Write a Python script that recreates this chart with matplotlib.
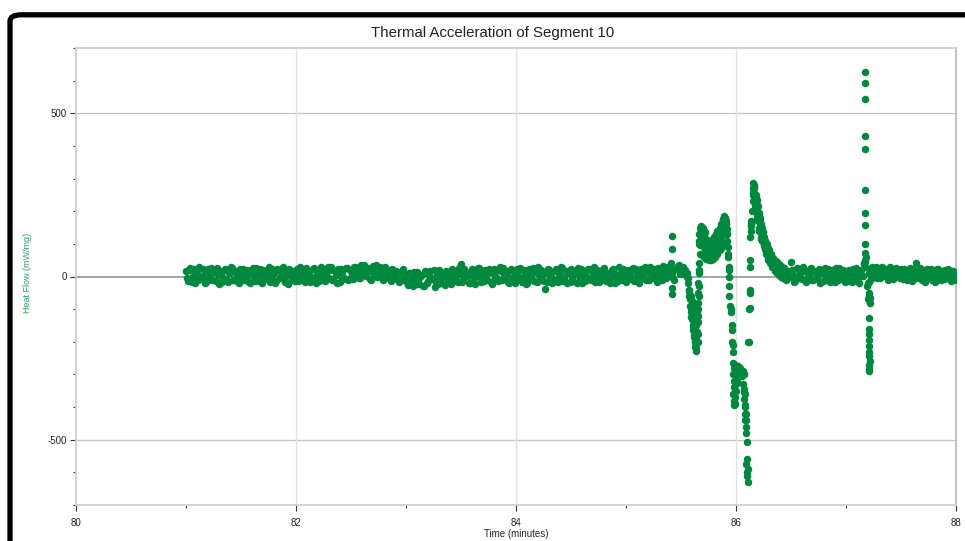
import numpy as np
import matplotlib
matplotlib.use("Agg")
import matplotlib.pyplot as plt
from matplotlib.ticker import MultipleLocator
from matplotlib.patches import FancyBboxPatch

plt.rcParams['font.family'] = ['Liberation Sans', 'DejaVu Sans']
plt.rcParams['axes.unicode_minus'] = False

# Baseline samples every 0.02 min from 81.00 (one row = half a minute)
t_start = 81.0
t_step = 0.02
hf_base = [
    18, -14, 25, 2, -20, 12, 28, -8, 5, -18, 22, 0, -12, 15, 26, -22, 8, -5, 20, -16, 10, 27, -10, 3, -19,
    14, 24, -12, 6, -21, 18, -3, 26, -15, 9, 21, -9, 2, -18, 24, 11, -14, 19, -6, 28, -17, 7, 23, -11, 4,
    16, -13, 29, 3, -18, 20, 8, -10, 27, -20, 12, 1, 24, -15, 18, -6, 30, -12, 6, 22, -17, 14, -4, 25, -9,
    20, -8, 30, 12, -5, 26, 35, 2, 18, -10, 32, 10, -3, 28, 16, -8, 24, 4, -14, 20, -2, 15, -18, 8, -10,
    5, -25, 12, -30, -5, 14, -22, 2, -28, 10, -15, 18, -8, -32, 6, 20, -20, 0, 16, -18, 8, 22, -14, 4, 25,
    38, -12, 18, 2, -20, 24, -6, 10, 26, -16, 4, 20, -10, 14, -22, 22, 0, -14, 16, 27, -8, 6, -19, 21, 3,
    -12, 18, 26, -6, 8, -20, 22, 2, -15, 16, 28, -10, 4, -38, -18, 20, 10, -8, 24, -16, 6, 26, -4, -20, 14,
    22, -14, 8, 27, -6, -20, 16, 2, 24, -12, 10, -18, 20, 4, -8, 26, -15, 12, 0, 22, -19, 6, 28, -10, 14,
    -16, 20, 4, 26, -9, 12, -20, 24, 8, -12, 18, 30, -6, 14, -18, 22, 6, 32, -4, 16, 28, 10, -10, 24, 35,
    12, 30, 20, -20, -70, -130, -180, -220, 100, 140, 125, 108, 88, 78, 88, 98, 108, 122, 138, 158, 178, 145, 20, -150, -300,
    -350, -290, -280, -300, -420, -600, -100, 160, 280, 240, 195, 165, 135, 110, 90, 72, 58, 45, 35, 28, 22, 16, 12, 10, 8,
    45, 5, -14, 22, 10, -8, 18, -18, 4, 26, -10, 14, 0, -20, 20, 8, -12, 24, -4, 16, -16, 10, 27, -8, 2,
    18, -14, 6, 24, -10, 12, -20, 20, 38, 60, -20, 22, 30, 8, -6, 26, 14, 2, 20, -10, 28, 12, -4, 22, 6,
    24, -8, 14, 2, 26, -14, 10, 42, -6, 18, 4, -16, 22, 8, -10, 16, 0, 24, -12, 12, 20, -6, 6, 18, -10,
]
# second channel of samples, taken 0.01 min after each of the above
hf_base2 = [
    -6, 20, -16, 24, 8, -12, -2, 22, -20, 14, -8, 26, 16, -15, 4, 18, -18, 24, -10, 10, 28, -12, 18, -16, 24,
    -10, 2, 20, -18, 12, 26, -14, 8, 22, -20, 4, 16, 28, 6, -12, -20, 24, -2, 15, -8, 20, -22, 0, 18, -14,
    24, 6, -10, 18, 26, -8, -18, 22, 0, 10, -14, 28, -6, 12, 30, 20, -10, 16, -20, 4, 24, -8, 26, -12, 20,
    4, 28, 14, -6, 34, 8, 18, 26, -8, 22, 6, 36, 20, 0, -10, 30, 10, -6, 22, 2, 18, -12, 10, 22, 2,
    -18, 10, -8, 14, -24, -12, 6, -30, 16, -20, 4, -6, 20, -16, -24, 2, 12, -26, -4, 10, -22, -6, 18, -18, 8,
    -16, 22, 4, -20, 14, 6, -24, 26, 0, 12, -14, 8, 24, -18, 10, -6, 20, 28, -10, 2, 18, -16, 24, -6, -20,
    24, 0, -16, 20, -22, 12, -4, 26, 14, -18, 6, 20, -14, 10, 24, -2, -20, 18, -10, 8, 28, -14, 16, 10, -18,
    -4, 18, -20, 12, 24, 6, -14, 22, -8, 16, 28, 2, -16, 18, 24, -10, 8, -20, 20, 10, 2, -14, 12, 24, -6,
    10, -8, 22, -14, 24, 2, 16, -6, 28, 20, -10, 8, 24, -4, 26, 10, -12, 18, 28, 4, 14, -6, 22, 32, 8,
    26, 8, 0, -45, -100, -155, -200, -120, 110, 100, 140, 75, 110, 60, 115, 80, 140, 100, 150, 130, 160, 70, -100, -210, -390,
    -320, -285, -295, -300, -440, -200, 120, 270, 215, 180, 140, 115, 92, 70, 52, 40, 28, 18, 10, 4, 0, 20, -10, 18, 0,
    20, -16, 26, -6, 14, 28, -12, 8, 22, -10, 18, -4, 24, 10, -14, 26, 4, -18, 20, 6, 26, -12, 12, 20, -16,
    -6, 20, -16, 10, 26, -4, 16, 2, 45, -30, 10, -8, 20, 28, 16, -4, 30, 22, 0, 24, 8, -8, 26, 14, -6,
    8, 22, -10, 18, 4, 24, -6, 16, 26, -12, 20, 10, -4, 24, 14, -16, 22, 6, 18, -8, 2, 24, -14, 16, 8,
]

# Extra readings around the events (time in minutes, heat flow in mW/mg)
t_lone = [85.41, 85.415, 85.415, 85.42, 85.42]
hf_lone = [40, 83, 123, -35, -55]

t_dip = [85.55, 85.56, 85.57, 85.575, 85.585, 85.59, 85.595, 85.6, 85.605, 85.61,
         85.61, 85.615, 85.62, 85.625, 85.63, 85.63, 85.635, 85.64, 85.64, 85.645,
         85.65, 85.65, 85.655, 85.655, 85.655, 85.66, 85.66,
         85.59, 85.6, 85.61, 85.62, 85.63, 85.64, 85.645, 85.65, 85.655, 85.66, 85.662, 85.665]
hf_dip = [10, -5, -40, -60, -90, -110, -125, -100, -150, -165,
          -120, -185, -140, -200, -215, -160, -228, -190, -150, -110,
          -80, -175, -50, -20, -140, 10, 40,
          -60, -75, -90, -100, -120, -130, -170, -200, -100, -60, -30, 20]

t_hump = [85.665, 85.67, 85.675, 85.68, 85.685, 85.69, 85.695, 85.7, 85.705, 85.71,
          85.715, 85.72, 85.725, 85.73, 85.735, 85.74, 85.745, 85.75, 85.755, 85.76,
          85.765, 85.77, 85.775, 85.78, 85.785, 85.79, 85.795, 85.8, 85.805, 85.81,
          85.815, 85.82, 85.825, 85.83, 85.835, 85.84, 85.845, 85.85, 85.855, 85.86,
          85.865, 85.87, 85.875, 85.88, 85.885, 85.89, 85.895, 85.9, 85.905, 85.91,
          85.915, 85.92,
          85.668, 85.678, 85.688, 85.698, 85.708, 85.718, 85.728, 85.738, 85.748, 85.758,
          85.768, 85.778, 85.788, 85.798, 85.808, 85.818, 85.828, 85.838, 85.848, 85.858,
          85.868, 85.878, 85.888,
          85.672, 85.69, 85.71, 85.73, 85.75, 85.77, 85.79, 85.81, 85.83, 85.85, 85.87, 85.89]
hf_hump = [130, 150, 95, 120, 155, 140, 105, 150, 90, 125,
           100, 135, 80, 115, 70, 105, 65, 100, 60, 95,
           70, 105, 65, 110, 75, 115, 80, 120, 85, 125,
           90, 130, 95, 135, 100, 140, 110, 150, 115, 160,
           120, 165, 130, 175, 140, 185, 150, 180, 160, 170,
           130, 110,
           110, 145, 100, 130, 115, 85, 100, 90, 80, 85,
           90, 95, 100, 105, 110, 115, 120, 120, 130, 140,
           145, 150, 165,
           70, 65, 60, 55, 50, 50, 55, 60, 70, 80, 90, 100]

t_crash = [85.925, 85.93, 85.935, 85.935, 85.94, 85.94, 85.945, 85.95, 85.96, 85.965,
           85.97, 85.975, 85.98, 85.975, 85.985, 85.98, 85.975, 85.985, 85.98, 85.99,
           85.995, 86.0, 86.005, 86.01, 85.99, 86.0, 85.995, 86.02, 86.03, 86.04,
           86.05, 86.06, 86.07, 86.065, 86.07, 86.075, 86.08, 86.085, 86.09, 86.085,
           86.09, 86.095, 86.1, 86.1, 86.095, 86.105, 86.1, 86.105, 86.08, 86.075]
hf_crash = [90, 60, 30, 0, -30, -60, -90, -110, -165, -200,
            -230, -265, -280, -300, -320, -340, -360, -380, -395, -270,
            -285, -275, -300, -280, -350, -330, -370, -275, -285, -290,
            -305, -290, -300, -330, -355, -375, -395, -400, -420, -440,
            -460, -478, -508, -560, -575, -590, -610, -630, -360, -345]

t_rise = [86.12, 86.125, 86.125, 86.128, 86.13, 86.13, 86.135, 86.14, 86.14, 86.145,
          86.15, 86.15, 86.155, 86.16, 86.155]
hf_rise = [-200, -50, -40, -95, 30, 50, 140, 155, 170, 200,
           230, 260, 287, 275, 250]

t_decay = [86.165, 86.17, 86.175, 86.18, 86.185, 86.19, 86.195, 86.2, 86.205, 86.21,
           86.215, 86.22, 86.225, 86.23, 86.235, 86.24, 86.245, 86.25, 86.255, 86.26,
           86.265, 86.27, 86.275, 86.28, 86.285, 86.29, 86.295, 86.3, 86.31, 86.315,
           86.325, 86.33, 86.345, 86.35, 86.365, 86.37, 86.385, 86.39, 86.405, 86.41,
           86.425, 86.43, 86.445, 86.45,
           86.168, 86.178, 86.188, 86.198, 86.208, 86.218, 86.228, 86.238, 86.248, 86.258,
           86.268, 86.278, 86.29, 86.3, 86.32, 86.34, 86.36, 86.38, 86.4, 86.42, 86.44]
hf_decay = [255, 225, 240, 210, 225, 190, 205, 170, 185, 150,
            170, 140, 150, 120, 140, 110, 125, 95, 115, 85,
            100, 75, 90, 70, 80, 60, 75, 55, 65, 45,
            55, 35, 48, 25, 38, 18, 30, 10, 25, 5,
            18, -5, 15, -8,
            270, 250, 235, 215, 195, 178, 160, 148, 135, 122,
            110, 100, 88, 80, 68, 58, 48, 40, 34, 28, 25]

t_spike = [87.165, 87.17, 87.172, 87.173, 87.174, 87.172, 87.173, 87.172, 87.174, 87.172,
           87.174, 87.172, 87.173,
           87.2, 87.205, 87.21, 87.205, 87.215, 87.215, 87.21, 87.205, 87.21, 87.212,
           87.208, 87.212, 87.21, 87.214, 87.21, 87.212, 87.213]
hf_spike = [40, 30, 52, 73, 101, 157, 195, 266, 391, 431,
            543, 592, 628,
            -70, -18, -50, -60, -65, -80, -128, -162, -177, -193,
            -214, -230, -245, -258, -270, -284, -290]

t_base = t_start + t_step * np.arange(len(hf_base))
t_base2 = t_base + t_step / 2
t_all = np.concatenate([t_base, t_base2, t_lone, t_dip, t_hump, t_crash, t_rise, t_decay, t_spike])
hf_all = np.concatenate([hf_base, hf_base2, hf_lone, hf_dip, hf_hump, hf_crash, hf_rise, hf_decay, hf_spike])

green = '#00883f'

fig = plt.figure(figsize=(9.65, 5.41), dpi=100)
ax = fig.add_axes([76/965, 1 - 505/541, 880/965, 457/541])

ax.axhline(0, color='#8c8c8c', lw=1.1, zorder=1)
for v in [-500, 500]:
    ax.axhline(v, color='#c4c4c4', lw=0.9, zorder=0)
for t in [82, 84, 86]:
    ax.axvline(t, color='#e2e2e2', lw=1.0, zorder=0)

ax.scatter(t_all, hf_all, s=29, color=green, linewidths=0, zorder=3)

ax.set_xlim(80, 88)
ax.set_ylim(-700, 700)
ax.xaxis.set_major_locator(MultipleLocator(2))
ax.xaxis.set_minor_locator(MultipleLocator(1))
ax.yaxis.set_major_locator(MultipleLocator(500))
ax.yaxis.set_minor_locator(MultipleLocator(100))
ax.tick_params(which='major', length=4, width=0.8, color='#333333', labelsize=7,
               labelcolor='#222222', pad=2.5)
ax.tick_params(which='minor', length=2, width=0.8, color='#333333')
ax.tick_params(axis='x', which='major', pad=5)

for name, sp in ax.spines.items():
    sp.set_color('#cfcfcf')
    sp.set_linewidth(1.3)
ax.spines['right'].set_color('#bdbdbd')

fig.text(493/965, 1 - 33/541, 'Thermal Acceleration of Segment 10', ha='center', va='center',
         fontsize=10.8, color='#222222')
fig.text(516/965, 1 - 534/541, 'Time (minutes)', ha='center', va='center', fontsize=7,
         color='#222222')
fig.text(27.5/965, 1 - 273/541, 'Heat Flow (mW/mg)', ha='center', va='center', rotation=90,
         fontsize=6.5, color='#2ca25f')

# screenshot frame
frame = FancyBboxPatch((10/965, -0.3), 1.3, 0.3 + (1 - 14.8/541),
                       boxstyle='round,pad=0,rounding_size=0.012',
                       transform=fig.transFigure, fill=False, lw=3.8, ec='black', clip_on=False)
fig.add_artist(frame)

fig.savefig('out.png', dpi=100)
